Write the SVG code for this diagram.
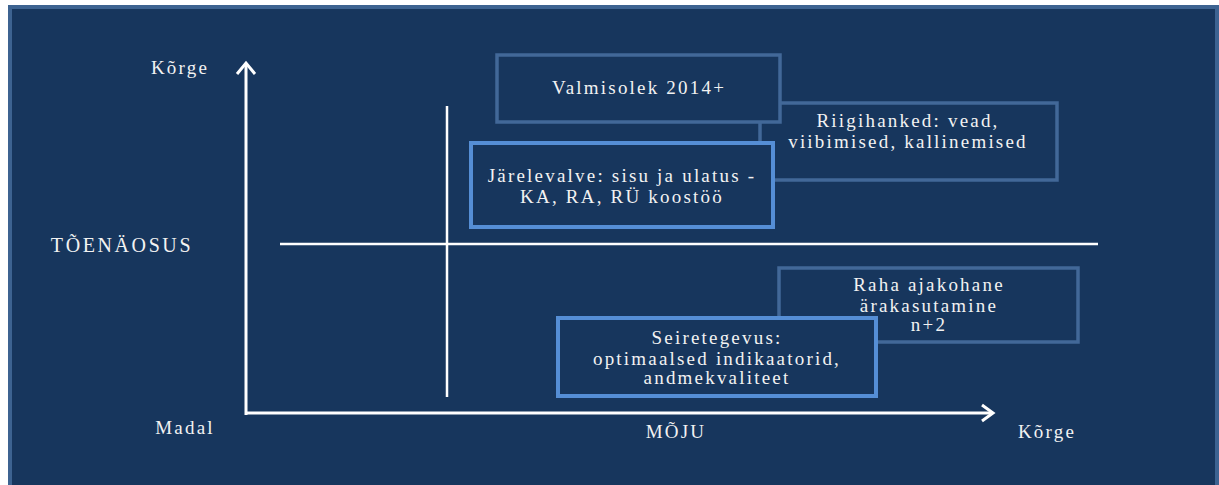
<svg xmlns="http://www.w3.org/2000/svg" width="1219" height="485" viewBox="0 0 1219 485">
<defs>
<style>
.t{font-family:"Liberation Serif","Times New Roman",serif;font-size:19px;fill:#F2F2F2;letter-spacing:2.2px;text-anchor:middle}
.big{font-size:20px;letter-spacing:2.6px}
.ax{stroke:#FFFFFF;stroke-width:3;fill:none}
.dv{stroke:#FFFFFF;stroke-width:2.5;fill:none}
.bm{fill:#17365D;stroke:#426898;stroke-width:3.5}
.bb{fill:#17365D;stroke:#558ED5;stroke-width:4}
</style>
</defs>
<rect x="0" y="0" width="1219" height="485" fill="#FFFFFF"/>
<rect x="10" y="7" width="1207" height="485" fill="#17365D" stroke="#3D6391" stroke-width="4"/>

<g id="connectors">
<line class="dv" x1="280" y1="244" x2="1098" y2="244"/>
<line class="dv" x1="447" y1="106" x2="447" y2="397"/>
<polyline class="ax" points="246,415 246,63"/>
<polyline class="ax" points="237,74 246,63 255,74"/>
<polyline class="ax" points="245,413 993,413"/>
<polyline class="ax" points="982,405 993,413 982,421"/>
</g>

<g id="label-korge-y"><text class="t" x="180" y="74">Kõrge</text></g>
<g id="label-toenaosus"><text class="t big" x="122" y="252">TÕENÄOSUS</text></g>
<g id="label-madal"><text class="t" x="185" y="434">Madal</text></g>
<g id="label-moju"><text class="t" x="676" y="438">MÕJU</text></g>
<g id="label-korge-x"><text class="t" x="1047" y="438">Kõrge</text></g>

<g id="node-riigihanked">
<rect class="bm" x="760" y="103" width="297" height="77"/>
<text class="t" x="908" y="127">Riigihanked: vead,</text>
<text class="t" x="908" y="148">viibimised, kallinemised</text>
</g>
<g id="node-valmisolek">
<rect class="bm" x="497" y="55" width="283" height="67"/>
<text class="t" x="639" y="94">Valmisolek 2014+</text>
</g>
<g id="node-jarelevalve">
<rect class="bb" x="471" y="143" width="302" height="84"/>
<text class="t" x="622" y="182">Järelevalve: sisu ja ulatus -</text>
<text class="t" x="622" y="203">KA, RA, RÜ koostöö</text>
</g>
<g id="node-raha">
<rect class="bm" x="779" y="268" width="299" height="74"/>
<text class="t" x="929" y="291">Raha ajakohane</text>
<text class="t" x="929" y="312">ärakasutamine</text>
<text class="t" x="929" y="331">n+2</text>
</g>
<g id="node-seiretegevus">
<rect class="bb" x="558" y="318" width="318" height="78"/>
<text class="t" x="717" y="344">Seiretegevus:</text>
<text class="t" x="717" y="365">optimaalsed indikaatorid,</text>
<text class="t" x="717" y="384">andmekvaliteet</text>
</g>
</svg>
